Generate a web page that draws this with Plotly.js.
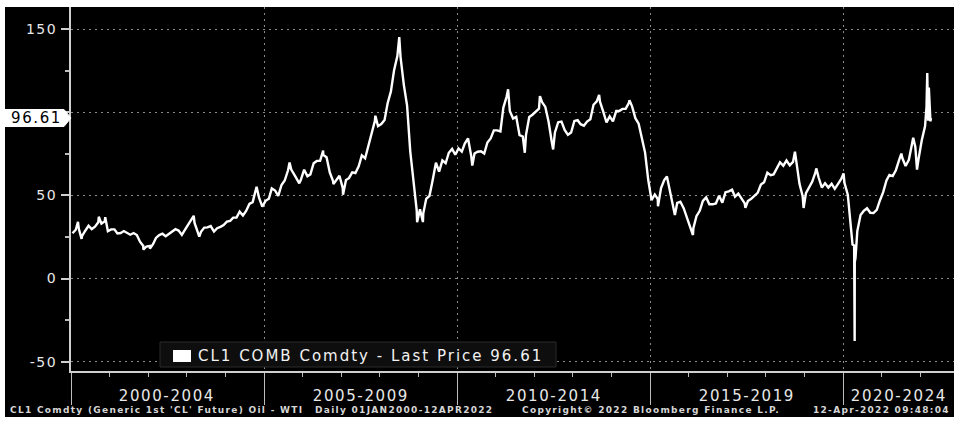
<!DOCTYPE html>
<html>
<head>
<meta charset="utf-8">
<script src="https://cdn.plot.ly/plotly-3.0.1.min.js"></script>
<style>
  html, body { margin: 0; padding: 0; background: #ffffff; width: 960px; height: 426px; overflow: hidden; }
  #chart { position: absolute; left: 5px; top: 7px; width: 949px; height: 410px; background: #000; }
</style>
</head>
<body>
<div id="chart"></div>
<script>
// ---- DATA ----
// Monthly price levels, Jan 2000 onward (one value per month, mid-month)
const seriesStart = '2000-01';
const prices2000 = [27.3, 29.4, 29.9, 25.7, 28.8, 31.8, 29.8, 31.2, 33.9, 33.1, 34.4, 28.5];
const prices2001 = [29.6, 29.6, 27.2, 27.4, 28.6, 27.6, 26.4, 27.4, 26.2, 22.2, 19.6, 19.3];
const prices2002 = [19.7, 20.7, 24.5, 26.2, 27.0, 25.5, 26.9, 28.4, 29.7, 28.9, 26.3, 29.4];
const prices2003 = [32.9, 35.9, 33.5, 28.3, 28.1, 30.7, 30.8, 31.6, 28.3, 30.3, 31.1, 32.2];
const prices2004 = [34.3, 34.7, 36.7, 36.7, 40.3, 38.0, 40.7, 44.9, 46.0, 53.1, 48.5, 43.3];
const prices2005 = [46.8, 48.0, 54.3, 53.0, 49.8, 56.3, 59.0, 65.0, 65.6, 62.4, 58.3, 59.4];
const prices2006 = [65.5, 61.6, 62.7, 69.4, 70.8, 70.9, 74.4, 73.0, 63.8, 58.9, 59.1, 61.9];
const prices2007 = [54.5, 59.3, 60.4, 63.9, 63.5, 67.5, 74.1, 72.4, 79.9, 85.8, 94.8, 91.7];
const prices2008 = [93.0, 95.4, 105.5, 112.6, 125.4, 133.9, 133.4, 116.7, 104.1, 76.6, 57.3, 41.1];
const prices2009 = [41.7, 39.1, 48.0, 49.8, 59.2, 69.7, 64.3, 71.1, 69.4, 75.7, 78.0, 74.5];
const prices2010 = [78.3, 76.4, 81.2, 84.3, 73.7, 75.3, 76.3, 76.6, 75.2, 81.9, 84.3, 89.2];
const prices2011 = [89.2, 88.6, 102.9, 109.5, 100.9, 96.3, 97.3, 86.3, 85.5, 86.3, 97.2, 98.6];
const prices2012 = [100.3, 102.2, 106.2, 103.3, 94.7, 82.3, 87.9, 94.1, 94.5, 89.5, 86.5, 87.9];
const prices2013 = [94.8, 95.3, 92.9, 92.0, 94.5, 95.8, 104.6, 106.6, 106.3, 100.5, 93.9, 97.6];
const prices2014 = [94.6, 100.8, 100.8, 102.1, 102.2, 105.8, 103.6, 96.5, 93.2, 84.4, 75.8, 59.3];
const prices2015 = [47.2, 50.6, 47.8, 54.5, 59.3, 59.8, 50.9, 42.9, 45.5, 46.2, 42.4, 37.2];
const prices2016 = [31.7, 30.3, 37.5, 40.8, 46.7, 48.8, 44.7, 44.7, 45.2, 49.8, 45.7, 52.0];
const prices2017 = [52.5, 53.5, 49.3, 51.1, 48.5, 45.2, 46.6, 48.0, 49.8, 51.6, 56.6, 57.9];
const prices2018 = [63.7, 62.2, 62.7, 66.3, 70.0, 67.9, 71.0, 68.1, 70.2, 70.8, 57.0, 49.5];
const prices2019 = [51.4, 55.0, 58.2, 63.9, 60.8, 54.7, 57.4, 54.8, 57.0, 54.0, 57.0, 59.9];
const prices2020 = [57.5, 50.5, 29.2, 19.9, 28.6, 38.3, 40.7, 42.3, 39.6, 39.4, 41.4, 47.0];
const prices2021 = [52.0, 59.0, 62.3, 61.7, 65.2, 71.4, 72.5, 67.7, 71.5, 81.2, 79.2, 71.7];
const prices2022 = [83.2, 91.6];

// Daily highs / lows / last prints visible in the reference
const eventDates = ['2000-03-07','2000-04-10','2000-09-20','2000-11-20','2001-11-15','2002-01-17',
  '2003-03-07','2003-04-29','2004-10-22','2005-08-30','2005-11-30','2006-07-14','2006-10-19',
  '2007-01-18','2007-11-20','2008-07-03','2008-12-19','2009-02-12','2010-05-25','2011-04-29',
  '2011-10-04','2012-02-24','2012-06-28','2013-09-06','2014-06-20','2015-03-17','2015-06-10',
  '2015-08-24','2016-02-11','2017-06-21','2018-10-03','2018-12-24','2019-04-23','2020-01-06',
  '2020-03-31','2020-04-20','2020-04-21','2020-04-28','2021-07-06','2021-10-26','2021-12-01',
  '2022-03-01','2022-03-08','2022-03-16','2022-03-23','2022-03-31','2022-04-07','2022-04-12'];
const eventPrices = [34.1, 23.9, 37.2, 36.9, 17.45, 18.0,
  37.8, 25.2, 55.2, 69.8, 57.3, 77.0, 56.8,
  50.5, 98.0, 145.3, 33.9, 34.0, 68.0, 113.9,
  75.7, 109.8, 77.7, 110.5, 107.3, 43.5, 61.4,
  38.2, 26.2, 42.5, 76.4, 42.5, 66.3, 63.3,
  20.5, -37.6, 10.0, 12.3, 75.2, 84.7, 65.6,
  103.4, 123.7, 95.0, 114.9, 100.3, 94.6, 96.61];

const yTickVals = [-50, 0, 50, 100, 150];
const periodStarts = ['2000-01-01', '2005-01-01', '2010-01-01', '2015-01-01', '2020-01-01'];
const periodLabels = ['2000-2004', '2005-2009', '2010-2014', '2015-2019', '2020-2024'];
const legendText = 'CL1 COMB Comdty - Last Price';
const footerTexts = ["CL1 Comdty (Generic 1st 'CL' Future) Oil - WTI", 'Daily 01JAN2000-12APR2022',
  'Copyright\u00A9 2022 Bloomberg Finance L.P.', '12-Apr-2022 09:48:04'];

// ---- BUILD SERIES ----
const monthly = [].concat(prices2000, prices2001, prices2002, prices2003, prices2004, prices2005,
  prices2006, prices2007, prices2008, prices2009, prices2010, prices2011, prices2012, prices2013,
  prices2014, prices2015, prices2016, prices2017, prices2018, prices2019, prices2020, prices2021, prices2022);
const startYear = +seriesStart.slice(0, 4);
const pts = monthly.map((v, i) => {
  const y = startYear + Math.floor(i / 12), m = (i % 12) + 1;
  return [y + '-' + String(m).padStart(2, '0') + '-15', v];
});
eventDates.forEach((d, i) => pts.push([d, eventPrices[i]]));
pts.sort((a, b) => a[0] < b[0] ? -1 : a[0] > b[0] ? 1 : 0);
const xs = pts.map(p => p[0]);
const ys = pts.map(p => p[1]);
const lastPrice = eventPrices[eventPrices.length - 1];

// ---- LAYOUT GEOMETRY (pixels of the 960x426 page) ----
const PL = 71, PR = 954, PT = 7, PB = 371;
const yRange = [-55.6, 163.4];
const xRange = ['2000-01-01', '2022-11-16'];
const px = X => (X - PL) / (PR - PL);
const py = Y => (PB - Y) / (PB - PT);
const yOfVal = v => PB - (v - yRange[0]) / (yRange[1] - yRange[0]) * (PB - PT);

const font = 'DejaVu Sans, Verdana, sans-serif';
const txtCol = '#e8e8e8';

const annotations = [];
const spacing = [];
// period labels, centred in each visible 5-year span
const endMs = Date.parse(xRange[1]);
periodStarts.forEach((s, i) => {
  const a = Date.parse(s);
  const b = Math.min(i + 1 < periodStarts.length ? Date.parse(periodStarts[i + 1]) : endMs, endMs);
  const mid = new Date((a + b) / 2).toISOString().slice(0, 10);
  annotations.push({ xref: 'x', yref: 'paper', x: mid, y: 0, yshift: -25, yanchor: 'middle',
    xanchor: 'center', showarrow: false, text: periodLabels[i],
    font: { family: font, size: 15, color: txtCol } });
  spacing.push(1.6);
});
// legend text
annotations.push({ xref: 'paper', yref: 'paper', x: px(196), y: py(356), xanchor: 'left', align: 'left',
  yanchor: 'middle', showarrow: false, text: legendText + ' ' + lastPrice.toFixed(2),
  font: { family: font, size: 15, color: '#f2f2f2' } });
spacing.push(2.0);
// last price label
annotations.push({ xref: 'paper', yref: 'paper', x: px(36), y: py(yOfVal(lastPrice)), xanchor: 'center',
  yanchor: 'middle', showarrow: false, text: lastPrice.toFixed(2),
  font: { family: font, size: 15, color: '#000' } });
spacing.push(1.6);
// footer
const footerX = [8, 313, 520, 952];
footerTexts.forEach((t, i) => {
  const right = i === footerTexts.length - 1;
  annotations.push({ xref: 'paper', yref: 'paper', x: px(footerX[i]), y: 0, yshift: -39,
    xanchor: right ? 'right' : 'left', align: right ? 'right' : 'left', yanchor: 'middle',
    showarrow: false, text: '<b>' + t + '</b>',
    font: { family: font, size: 9, color: '#d6d6d6' } });
  spacing.push(1.3);
});

const yc = yOfVal(lastPrice);
const shapes = [
  // legend box
  { type: 'rect', xref: 'paper', yref: 'paper', x0: px(160), x1: px(556), y0: py(367), y1: py(342),
    fillcolor: '#0e0e0e', line: { color: '#2a2a2a', width: 1 }, layer: 'above' },
  { type: 'rect', xref: 'paper', yref: 'paper', x0: px(173), x1: px(191), y0: py(362), y1: py(350),
    fillcolor: '#ffffff', line: { width: 0 }, layer: 'above' },
  // last price tag
  { type: 'path', xref: 'paper', yref: 'paper', layer: 'above',
    path: `M ${px(5)},${py(yc - 8.5)} L ${px(64)},${py(yc - 8.5)} L ${px(71)},${py(yc)} L ${px(64)},${py(yc + 8.5)} L ${px(5)},${py(yc + 8.5)} Z`,
    fillcolor: '#ffffff', line: { color: '#ffffff', width: 1 } }
];

// tick labels hidden under the last-price tag are left blank (as in the reference)
const tagHalf = 9 * (yRange[1] - yRange[0]) / (PB - PT);
const yTickText = yTickVals.map(v => Math.abs(v - lastPrice) < tagHalf + 6 ? '' : String(v));

const trace = { x: xs, y: ys, type: 'scatter', mode: 'lines',
  line: { color: '#ffffff', width: 2.4 }, hoverinfo: 'skip', showlegend: false };

const layout = {
  width: 949, height: 410,
  margin: { l: PL - 5, r: 0, t: PT - 7, b: 417 - PB, pad: 0 },
  paper_bgcolor: '#000000', plot_bgcolor: '#000000',
  showlegend: false,
  xaxis: {
    type: 'date', range: xRange, tickmode: 'linear', tick0: '2000-01-01', dtick: 'M60',
    showticklabels: false, ticks: 'outside', ticklen: 32, tickwidth: 1, tickcolor: '#bdbdbd',
    showgrid: true, gridcolor: '#8a8a8a', griddash: '2px,4px', gridwidth: 1,
    showline: true, linecolor: '#cfcfcf', linewidth: 2, zeroline: false,
    minor: { dtick: 'M12', tick0: '2000-01-01', ticks: 'outside', ticklen: 4, tickcolor: '#bdbdbd', showgrid: false }
  },
  yaxis: {
    range: yRange, tickmode: 'array', tickvals: yTickVals, ticktext: yTickText,
    ticks: 'outside', ticklen: 8, tickwidth: 2, tickcolor: '#d0d0d0', ticklabelstandoff: 1,
    tickfont: { family: font, size: 14, color: txtCol },
    showgrid: true, gridcolor: '#8a8a8a', griddash: '2px,4px', gridwidth: 1,
    showline: true, linecolor: '#cfcfcf', linewidth: 2, zeroline: false,
    minor: { tickmode: 'linear', tick0: 25, dtick: 50, ticks: 'outside', ticklen: 4, tickcolor: '#bdbdbd', showgrid: false }
  },
  annotations: annotations,
  shapes: shapes
};

Plotly.newPlot('chart', [trace], layout, { staticPlot: true, displayModeBar: false }).then(gd => {
  gd.querySelectorAll('.annotation').forEach(a => {
    const i = +a.getAttribute('data-index');
    const t = a.querySelector('text');
    if (t && spacing[i] != null) t.style.letterSpacing = spacing[i] + 'px';
  });
  gd.querySelectorAll('.ytick text').forEach(t => { t.style.letterSpacing = '1.5px'; });
});
</script>
</body>
</html>
